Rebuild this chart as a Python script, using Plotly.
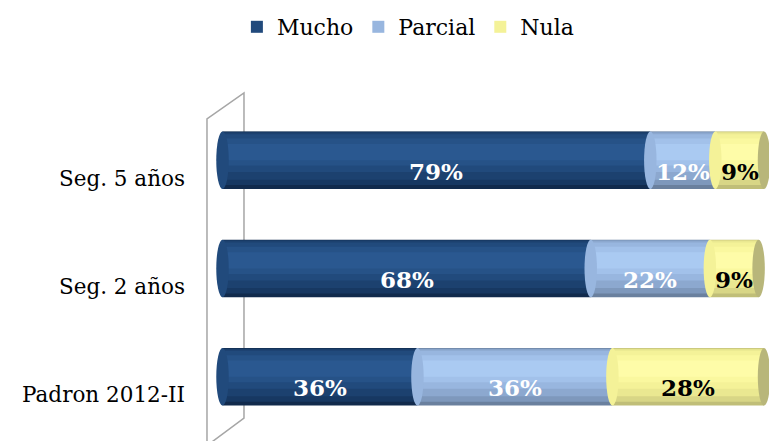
import plotly.graph_objects as go

# ---- data ----
categories = ["Padron 2012-II", "Seg. 2 años", "Seg. 5 años"]
mucho = [36, 68, 79]
parcial = [36, 22, 12]
nula = [28, 9, 9]
series_names = ["Mucho", "Parcial", "Nula"]

series_values = [mucho, parcial, nula]

# ---- style ----
FONT = "DejaVu Serif"
# nested shading bands (outer/dark -> inner/highlight) to mimic cylinders
band_colors = [
    ["#112A4C", "#173862", "#1C416F", "#214A7C", "#265287", "#2A5890"],
    ["#6A809E", "#7E98BC", "#8CA8CF", "#98B6DF", "#A2C1EA", "#AACAF2"],
    ["#C0BE78", "#D8D686", "#EAE891", "#F4F298", "#FAF89F", "#FEFCA8"],
]
band_geom = [(-0.265, 0.265), (-0.23, 0.262), (-0.18, 0.255),
             (-0.11, 0.24), (-0.05, 0.20), (0.0, 0.15)]
LEGEND_BAND = 3
text_colors = ["white", "white", "black"]
cap_color = "#B8B67A"
BAR_HALF = 0.265
RX = 1.15

fig = go.Figure()

starts = []
running = [0] * len(categories)
for vals in series_values:
    starts.append(list(running))
    running = [r + v for r, v in zip(running, vals)]

for si, (name, vals) in enumerate(zip(series_names, series_values)):
    for bi, (lo, hi) in enumerate(band_geom):
        fig.add_trace(go.Bar(
            orientation="h",
            y=categories,
            x=vals,
            base=starts[si],
            width=hi - lo,
            offset=lo,
            name=name,
            legendgroup=name,
            showlegend=(bi == LEGEND_BAND),
            marker=dict(color=band_colors[si][bi], line=dict(width=0)),
            hoverinfo="skip",
        ))

shapes = []
# back wall (decorative frame)
shapes.append(dict(
    type="path", xref="paper", yref="paper", layer="below",
    path="M -0.0163,-0.06 L -0.0163,0.96 L 0.0506,1.04 L 0.0506,0.04 L -0.0163,-0.045",
    line=dict(color="#A6A6A6", width=1.5),
))
# cylinder ends and segment joints
for si, vals in enumerate(series_values):
    for ci in range(len(categories)):
        x0 = starts[si][ci]
        shapes.append(dict(
            type="circle", xref="x", yref="y", layer="above",
            x0=x0 - RX, x1=x0 + RX, y0=ci - BAR_HALF, y1=ci + BAR_HALF,
            fillcolor=band_colors[si][3], line=dict(width=0),
        ))
for ci in range(len(categories)):
    end = running[ci]
    shapes.append(dict(
        type="circle", xref="x", yref="y", layer="above",
        x0=end - RX, x1=end + RX, y0=ci - BAR_HALF, y1=ci + BAR_HALF,
        fillcolor=cap_color, line=dict(width=0),
    ))

annotations = []
for si, vals in enumerate(series_values):
    for ci, cat in enumerate(categories):
        annotations.append(dict(
            x=starts[si][ci] + vals[ci] / 2, y=cat, xref="x", yref="y",
            text=f"{vals[ci]}%", showarrow=False, yshift=-11,
            font=dict(family=FONT, size=23, color=text_colors[si], weight="bold"),
        ))

fig.update_layout(
    width=769, height=441,
    margin=dict(l=216, r=0, t=106, b=10, autoexpand=False),
    barmode="overlay",
    plot_bgcolor="white", paper_bgcolor="white",
    font=dict(family=FONT, size=21, color="black"),
    showlegend=True,
    legend=dict(
        orientation="h", xref="paper", x=0.347, xanchor="center",
        yref="container", y=1 - 27 / 441, yanchor="middle",
        font=dict(family=FONT, size=22, color="black"),
        itemclick=False, itemdoubleclick=False,
        traceorder="normal",
    ),
    xaxis=dict(range=[-1.2, 100.92], visible=False, fixedrange=True),
    yaxis=dict(
        type="category", categoryorder="array", categoryarray=categories,
        range=[-0.5, 2.5], showgrid=False, zeroline=False, showline=False,
        ticks="", ticklabelshift=18, ticklabelstandoff=30, automargin=False,
        tickfont=dict(family=FONT, size=21.5, color="black"), fixedrange=True,
    ),
    shapes=shapes,
    annotations=annotations,
)

fig.write_html(
    "out.html",
    config={"displayModeBar": False},
    post_script="document.body.style.margin='0';document.body.style.overflow='hidden';",
)
